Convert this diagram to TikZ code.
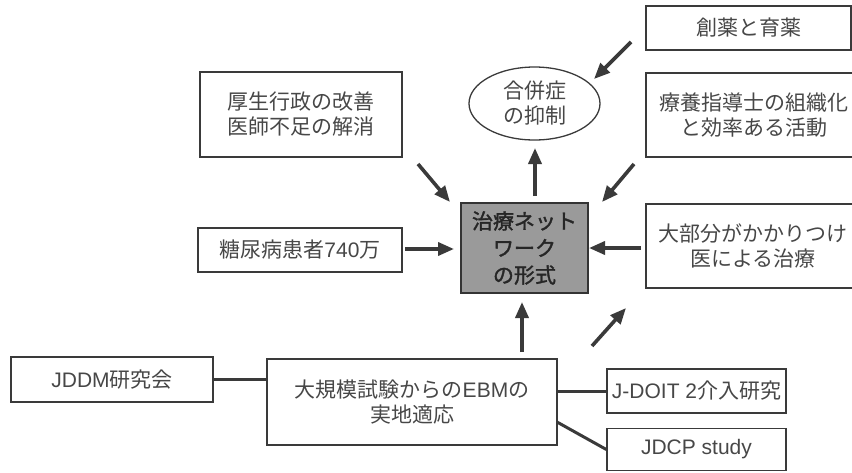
\documentclass[tikz,border=0pt]{standalone}
\usepackage{fontspec}
\setmainfont{Noto Sans CJK JP}
\newfontfamily\lat{Liberation Sans}
\newfontfamily\cjkb[FakeBold=1.6]{Noto Sans CJK JP}
\usetikzlibrary{arrows.meta,shapes.geometric}
\definecolor{ink}{HTML}{3A3A3A}
\definecolor{txt}{HTML}{474747}
\definecolor{hub}{HTML}{9A9A9A}
\begin{document}
\begin{tikzpicture}[x=1pt,y=-1pt,
  box/.style={draw=ink,line width=1.3pt,rectangle,inner sep=0pt,align=center,text=txt,
    font=\fontsize{21}{25}\selectfont},
  hubbox/.style={box,fill=hub,line width=1.8pt,draw=ink!90!black,text=black!85,
    font=\fontsize{21}{27}\cjkb},
  oval/.style={box,ellipse},
  conn/.style={draw=ink,line width=3pt},
  arr/.style={draw=ink,line width=3.6pt,-{Triangle[length=16pt,width=13pt]}}]
\useasboundingbox (0,0) rectangle (852,472);
\clip (0,0) rectangle (852,472);
% nodes
\node[box,minimum width=205,minimum height=44] (souyaku) at (748.5,28) {創薬と育薬};
\node[box,minimum width=216,minimum height=84] (ryouyou) at (754,115) {療養指導士の組織化\\と効率ある活動};
\node[box,minimum width=202,minimum height=85] (kousei) at (301,114.5) {厚生行政の改善\\医師不足の解消};
\node[oval,minimum width=131,minimum height=73] (gappei) at (534.5,103.5) {合併症\\の抑制};
\node[hubbox,minimum width=127,minimum height=90] (hub) at (524.5,248) {治療ネット\\ワーク\\の形式};
\node[box,minimum width=204,minimum height=44] (tounyou) at (300,250) {糖尿病患者{\lat 740}万};
\node[box,minimum width=214,minimum height=84] (daibu) at (753,246) {大部分がかかりつけ\\医による治療};
\node[box,minimum width=202,minimum height=45] (jddm) at (112,379.5) {{\lat JDDM}研究会};
\node[box,minimum width=290,minimum height=86] (ebm) at (412,402) {大規模試験からの{\lat EBM}の\\実地適応};
\node[box,minimum width=179,minimum height=44] (jdoit) at (696.5,391) {{\lat J-DOIT 2}介入研究};
\node[box,minimum width=179,minimum height=42] (jdcp) at (696.5,449.5) {{\lat JDCP study}};
% plain connectors
\draw[conn] (jddm.east) -- (jddm.east -| ebm.west);
\draw[conn] (jdoit.west -| ebm.east) -- (jdoit.west);
\coordinate (ebmlow) at (557,422);
\draw[conn] (ebmlow) -- (jdcp.west);
% arrow end points
\coordinate (a1s) at (418,164); \coordinate (a1e) at (450,202);
\coordinate (a2s) at (535,196); \coordinate (a2e) at (535,148);
\coordinate (a3s) at (634,164); \coordinate (a3e) at (602,202);
\coordinate (a4s) at (631,42);  \coordinate (a4e) at (594,79);
\coordinate (a5s) at (405,249); \coordinate (a5e) at (454,249);
\coordinate (a6s) at (641,248); \coordinate (a6e) at (589,248);
\coordinate (a7s) at (522,352); \coordinate (a7e) at (522,302);
\coordinate (a8s) at (592,346); \coordinate (a8e) at (626,308);
\draw[arr] (a1s) -- (a1e);
\draw[arr] (a2s) -- (a2e);
\draw[arr] (a3s) -- (a3e);
\draw[arr] (a4s) -- (a4e);
\draw[arr] (a5s) -- (a5e);
\draw[arr] (a6s) -- (a6e);
\draw[arr] (a7s) -- (a7e);
\draw[arr] (a8s) -- (a8e);
\end{tikzpicture}
\end{document}
